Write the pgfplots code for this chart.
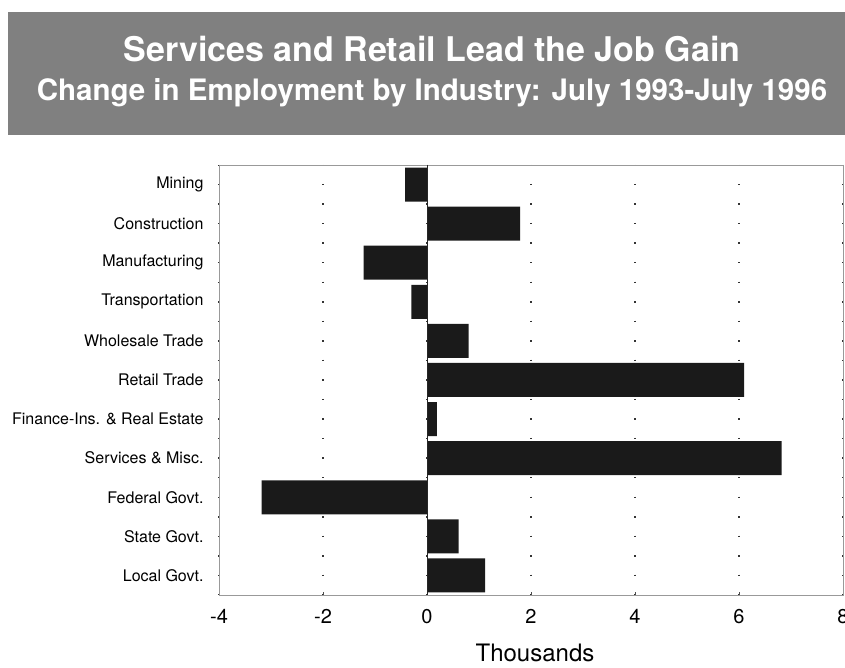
\documentclass[border=0pt]{standalone}
\usepackage{fontspec}
\setmainfont{TeX Gyre Heros}
\usepackage{pgfplots}
\pgfplotsset{compat=1.18}
\definecolor{titlegray}{RGB}{128,128,128}
\definecolor{barblack}{RGB}{26,26,26}
\begin{document}
\begin{tikzpicture}[x=1pt,y=1pt]
\useasboundingbox (0,0) rectangle (845,668);
\clip (0,0) rectangle (845,668);
% title box
\fill[titlegray] (8,668-135) rectangle (845,668-12);
\node[anchor=base, text=white, font=\fontsize{34}{36}\selectfont\bfseries] at (432,668-62) {Services and Retail Lead the Job Gain};
\node[anchor=base, text=white, font=\fontsize{29.5}{32}\selectfont\bfseries] at (432,668-101) {Change in Employment by Industry: July 1993-July 1996};
\begin{axis}[
  at={(219pt,73pt)}, anchor=south west,
  scale only axis, width=624pt, height=430pt,
  xmin=-4, xmax=8, ymin=-0.5, ymax=10.5,
  y dir=reverse,
  xbar, bar width=34pt, bar shift=0pt,
  axis line style={gray!80, line width=0.8pt},
  xtick={-4,-2,0,2,4,6,8},
  xticklabels={-4,-2,0,2,4,6,8},
  xtick pos=bottom, tick align=inside,
  major tick length=3pt,
  tick style={black!70, line width=0.6pt},
  ytick={0,1,2,3,4,5,6,7,8,9,10},
  yticklabels={Mining,Construction,Manufacturing,Transportation,Wholesale Trade,Retail Trade,{Finance-Ins. \& Real Estate},Services \& Misc.,Federal Govt.,State Govt.,Local Govt.},
  ytick style={draw=none},
  yticklabel style={font=\fontsize{16}{18}\selectfont, xshift=-12pt},
  xticklabel style={font=\fontsize{20}{22}\selectfont, yshift=-11pt},
  xmajorgrids=true,
  grid style={black!80, line width=1.2pt, dash pattern=on 1.4pt off 18.145pt, dash phase=0.7pt},
]
\addplot[draw=none, fill=barblack] coordinates {
 (-0.42,0) (1.79,1) (-1.22,2) (-0.30,3) (0.80,4) (6.10,5) (0.19,6) (6.82,7) (-3.18,8) (0.61,9) (1.12,10)};
\draw[black!85, line width=0.8pt] (axis cs:0,-0.5) -- (axis cs:0,10.5);
\end{axis}
\node[anchor=base, font=\fontsize{24}{26}\selectfont] at (535,6) {Thousands};
\end{tikzpicture}
\end{document}
